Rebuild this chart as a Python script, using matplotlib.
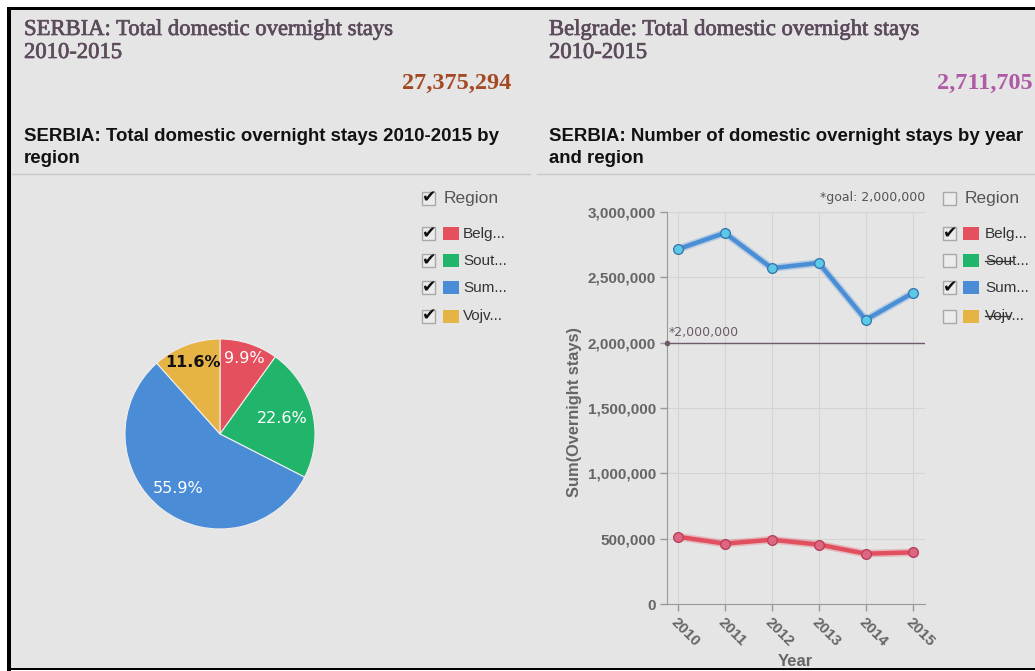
import matplotlib
matplotlib.use("Agg")
import numpy as np
import matplotlib.pyplot as plt
import matplotlib.patheffects as pe
from matplotlib.patches import Rectangle
from matplotlib.lines import Line2D
from matplotlib.ticker import FuncFormatter

# data
regions = ["Belgrade", "South and East Serbia", "Sumadija and West Serbia", "Vojvodina"]
region_short = ["Belg...", "Sout...", "Sum...", "Vojv..."]
region_totals = [2711705, 6186816, 15301239, 3175534]
region_colors = ["#e5505f", "#21b46b", "#4a8dd6", "#e5b445"]
years = [2010, 2011, 2012, 2013, 2014, 2015]
belgrade_by_year = [515000, 462000, 492000, 455000, 385000, 395000]
sumadija_by_year = [2715000, 2840000, 2570000, 2610000, 2175000, 2380000]
line_checked = [True, False, True, False]
goal = 2000000
total_serbia = 27375294
total_belgrade = 2711705

W, H = 1035, 671
def fx(x):
    return x / W
def fy(y):
    return 1 - y / H

fig = plt.figure(figsize=(W / 100, H / 100), dpi=100)
fig.patch.set_facecolor("white")

# dashboard background and frame
fig.add_artist(Rectangle((fx(8), fy(669)), 1, (669 - 8) / H, transform=fig.transFigure,
                         facecolor="#e5e5e5", edgecolor="none", zorder=-10))
fig.add_artist(Rectangle((fx(7), fy(671)), 4 / W, (671 - 7) / H, transform=fig.transFigure,
                         facecolor="black", edgecolor="none"))
fig.add_artist(Rectangle((fx(7), fy(10)), 1, 3 / H, transform=fig.transFigure,
                         facecolor="black", edgecolor="none"))
fig.add_artist(Rectangle((fx(7), fy(670)), 1, 2 / H, transform=fig.transFigure,
                         facecolor="black", edgecolor="none"))

serif = "Liberation Serif"
sans = "Liberation Sans"
title_col = "#5c4b5c"
thick = [pe.withStroke(linewidth=0.5, foreground=title_col)]

# headers
for x0, head in [(24, "SERBIA: Total domestic overnight stays"),
                 (549, "Belgrade: Total domestic overnight stays")]:
    fig.text(fx(x0), fy(35), head, family=serif, fontsize=16.3, color=title_col,
             va="baseline", path_effects=thick)
    fig.text(fx(x0), fy(58), "2010-2015", family=serif, fontsize=16.3, color=title_col,
             va="baseline", path_effects=thick)
fig.text(fx(511), fy(89), f"{total_serbia:,}", family=serif, fontsize=17.5, weight="bold",
         color="#a34a25", ha="right", va="baseline")
fig.text(fx(1033), fy(89), f"{total_belgrade:,}", family=serif, fontsize=17.5, weight="bold",
         color="#b05aa6", ha="right", va="baseline")

fig.text(fx(24), fy(141), "SERBIA: Total domestic overnight stays 2010-2015 by", family=sans,
         fontsize=13.4, weight="bold", color="#111111", va="baseline")
fig.text(fx(24), fy(163), "region", family=sans, fontsize=13.4, weight="bold", color="#111111",
         va="baseline")
fig.text(fx(549), fy(141), "SERBIA: Number of domestic overnight stays by year", family=sans,
         fontsize=13.4, weight="bold", color="#111111", va="baseline")
fig.text(fx(549), fy(163), "and region", family=sans, fontsize=13.4, weight="bold",
         color="#111111", va="baseline")

fig.add_artist(Line2D([fx(12), fx(530)], [fy(174), fy(174)], color="#c8c8c8", lw=1))
fig.add_artist(Line2D([fx(537), fx(1035)], [fy(174), fy(174)], color="#c8c8c8", lw=1))

# pie
cx, cy, r = 220, 434, 95
pax = fig.add_axes([fx(cx - r), fy(cy + r), 2 * r / W, 2 * r / H])
wedges, _ = pax.pie(region_totals, colors=region_colors, startangle=90, counterclock=False,
                    wedgeprops=dict(edgecolor="#eeeeee", linewidth=0.8))
pax.set_xlim(-1, 1)
pax.set_ylim(-1, 1)
pax.axis("off")
for w in wedges:
    w.set_clip_on(False)
label_r = [0.84, 0.67, 0.73, 0.81]
fracs = np.array(region_totals) / sum(region_totals)
start = 0.0
for i, f in enumerate(fracs):
    ang = np.deg2rad(90 - (start + f / 2) * 360)
    start += f
    col = "#111111" if i == 3 else "white"
    wt = "bold" if i == 3 else "normal"
    pax.text(label_r[i] * np.cos(ang), label_r[i] * np.sin(ang), f"{f * 100:.1f}%",
             ha="center", va="center", fontsize=11.5, color=col, weight=wt,
             family="DejaVu Sans")

# legends
def checkbox(x, y, checked):
    fig.add_artist(Rectangle((fx(x), fy(y + 6.5)), 13 / W, 13 / H, transform=fig.transFigure,
                             facecolor="#ececec", edgecolor="#a8a8a8", lw=1))
    if checked:
        fig.text(fx(x + 7.5), fy(y - 0.5), "\u2714", family="DejaVu Sans", fontsize=12.5,
                 color="#111111", ha="center", va="center")

def legend(bx, hx, sx, tx, checks, header_checked):
    checkbox(bx, 198, header_checked)
    fig.text(fx(hx), fy(198), "Region", family=sans, fontsize=12.5, color="#555555", va="center")
    texts = []
    for i, y in enumerate([234, 261, 288, 316]):
        checkbox(bx, y, checks[i])
        fig.add_artist(Rectangle((fx(sx), fy(y + 6.5)), 16 / W, 13 / H, transform=fig.transFigure,
                                 facecolor=region_colors[i], edgecolor="none"))
        t = fig.text(fx(tx), fy(y), region_short[i], family=sans, fontsize=11, color="#333333",
                     va="center")
        texts.append((t, checks[i], y))
    return texts

left_items = legend(422, 444, 443, 463, [True] * 4, True)
right_items = legend(943, 965, 963, 985, line_checked, False)

# line chart
ax = fig.add_axes([fx(667), fy(604), (925 - 667) / W, (604 - 212) / H])
ax.set_facecolor("none")
ax.set_xlim(2009.77, 2015.26)
ax.set_ylim(0, 3000000)
ax.set_xticks(years)
ax.set_yticks(np.arange(0, 3000001, 500000))
ax.grid(True, color="#d4d4d4", lw=0.8)
ax.set_axisbelow(True)
for s in ["top", "right"]:
    ax.spines[s].set_visible(False)
for s in ["left", "bottom"]:
    ax.spines[s].set_color("#999999")
ax.tick_params(colors="#999999", length=5, width=1, pad=3)
ax.yaxis.set_major_formatter(FuncFormatter(lambda v, p: f"{int(v):,}"))
for lab in ax.get_yticklabels():
    lab.set_family(sans)
    lab.set_weight("bold")
    lab.set_fontsize(11)
    lab.set_color("#666666")
ax.set_xticklabels([str(y) for y in years], rotation=-45, ha="left", va="top",
                   rotation_mode="anchor", family=sans, fontsize=11, weight="bold",
                   color="#666666")

ax.axhline(goal, color="#6b5b6b", lw=1, zorder=2)
ax.plot([2009.77], [goal], "o", color="#6b5b6b", ms=3, clip_on=False, zorder=3)
ax.text(2009.80, goal + 25000, "*2,000,000", family="DejaVu Sans", fontsize=9,
        color="#6b5b6b", va="bottom")
fig.text(fx(925), fy(198), "*goal: 2,000,000", family="DejaVu Sans", fontsize=9,
         color="#555555", ha="right", va="center")

series = [(sumadija_by_year, "#4a8fd6", "#5bc9e8", "#3b78b0"),
          (belgrade_by_year, "#e2505f", "#de6680", "#b8405c")]
for vals, lc, mf, me in series:
    ax.plot(years, vals, color=lc, lw=5.5, alpha=0.3, solid_capstyle="round", zorder=4)
    ax.plot(years, vals, color=lc, lw=3.2, marker="o", ms=7, mfc=mf, mec=me, mew=1,
            solid_capstyle="round", zorder=5)

fig.text(fx(574), fy(412), "Sum(Overnight stays)", family=sans, fontsize=11.8, weight="bold",
         color="#666666", rotation=90, ha="center", va="center")
fig.text(fx(795), fy(661), "Year", family=sans, fontsize=12, weight="bold", color="#666666",
         ha="center", va="center")

# strike out unchecked legend entries
fig.canvas.draw()
renderer = fig.canvas.get_renderer()
for t, checked, y in right_items:
    if not checked:
        bb = t.get_window_extent(renderer).transformed(fig.transFigure.inverted())
        fig.add_artist(Line2D([bb.x0, bb.x0 + (bb.x1 - bb.x0) * 0.62], [fy(y), fy(y)],
                              color="#333333", lw=0.9))

fig.savefig("out.png", dpi=100)
